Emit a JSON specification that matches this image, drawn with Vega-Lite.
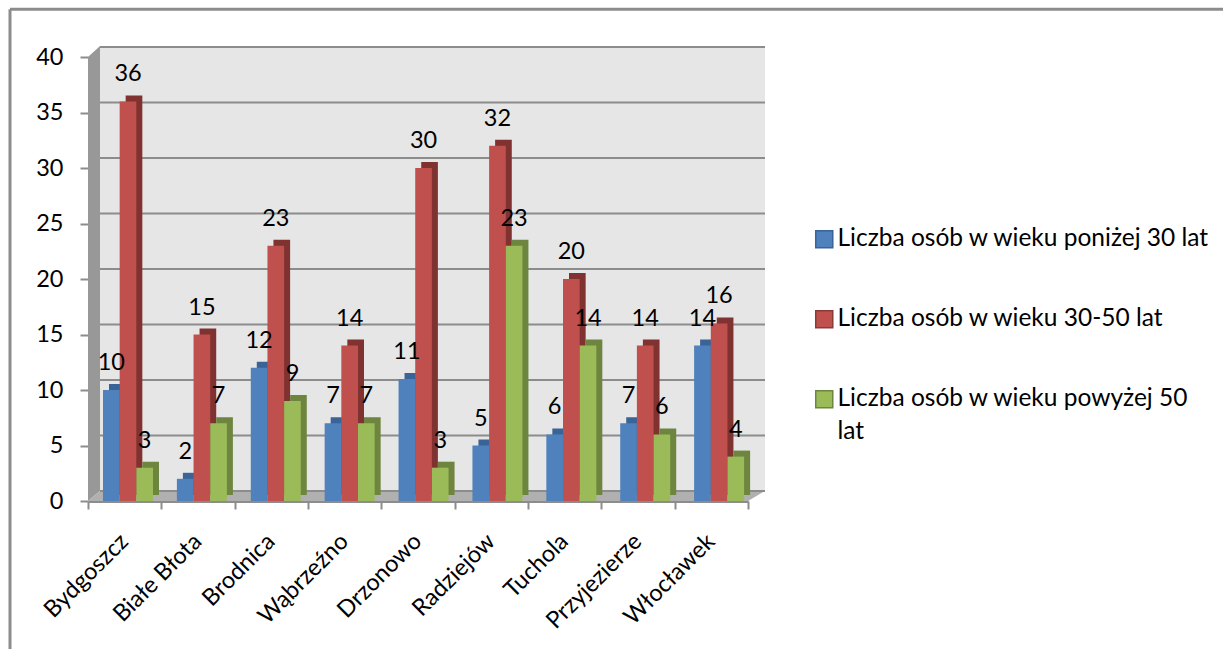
{
"$schema":"https://vega.github.io/schema/vega-lite/v6.json",
"width":660,"height":444,
"autosize":"none",
"padding":{"left":88,"top":57,"right":475,"bottom":148},
"background":"white",
"config":{"view":{"stroke":null},"font":"Lato"},
"datasets":{
 "chart":[
 {"miasto":"Bydgoszcz","seria":"Liczba osób w wieku poniżej 30 lat","liczba":10},
 {"miasto":"Bydgoszcz","seria":"Liczba osób w wieku 30-50 lat","liczba":36},
 {"miasto":"Bydgoszcz","seria":"Liczba osób w wieku powyżej 50 lat","liczba":3},
 {"miasto":"Białe Błota","seria":"Liczba osób w wieku poniżej 30 lat","liczba":2},
 {"miasto":"Białe Błota","seria":"Liczba osób w wieku 30-50 lat","liczba":15},
 {"miasto":"Białe Błota","seria":"Liczba osób w wieku powyżej 50 lat","liczba":7},
 {"miasto":"Brodnica","seria":"Liczba osób w wieku poniżej 30 lat","liczba":12},
 {"miasto":"Brodnica","seria":"Liczba osób w wieku 30-50 lat","liczba":23},
 {"miasto":"Brodnica","seria":"Liczba osób w wieku powyżej 50 lat","liczba":9},
 {"miasto":"Wąbrzeźno","seria":"Liczba osób w wieku poniżej 30 lat","liczba":7},
 {"miasto":"Wąbrzeźno","seria":"Liczba osób w wieku 30-50 lat","liczba":14},
 {"miasto":"Wąbrzeźno","seria":"Liczba osób w wieku powyżej 50 lat","liczba":7},
 {"miasto":"Drzonowo","seria":"Liczba osób w wieku poniżej 30 lat","liczba":11},
 {"miasto":"Drzonowo","seria":"Liczba osób w wieku 30-50 lat","liczba":30},
 {"miasto":"Drzonowo","seria":"Liczba osób w wieku powyżej 50 lat","liczba":3},
 {"miasto":"Radziejów","seria":"Liczba osób w wieku poniżej 30 lat","liczba":5},
 {"miasto":"Radziejów","seria":"Liczba osób w wieku 30-50 lat","liczba":32},
 {"miasto":"Radziejów","seria":"Liczba osób w wieku powyżej 50 lat","liczba":23},
 {"miasto":"Tuchola","seria":"Liczba osób w wieku poniżej 30 lat","liczba":6},
 {"miasto":"Tuchola","seria":"Liczba osób w wieku 30-50 lat","liczba":20},
 {"miasto":"Tuchola","seria":"Liczba osób w wieku powyżej 50 lat","liczba":14},
 {"miasto":"Przyjezierze","seria":"Liczba osób w wieku poniżej 30 lat","liczba":7},
 {"miasto":"Przyjezierze","seria":"Liczba osób w wieku 30-50 lat","liczba":14},
 {"miasto":"Przyjezierze","seria":"Liczba osób w wieku powyżej 50 lat","liczba":6},
 {"miasto":"Włocławek","seria":"Liczba osób w wieku poniżej 30 lat","liczba":14},
 {"miasto":"Włocławek","seria":"Liczba osób w wieku 30-50 lat","liczba":16},
 {"miasto":"Włocławek","seria":"Liczba osób w wieku powyżej 50 lat","liczba":4}
 ],
 "poziomy":[{"v":0},{"v":5},{"v":10},{"v":15},{"v":20},{"v":25},{"v":30},{"v":35},{"v":40}],
 "bokSciany":[{"g":0,"lo":0,"hi":40},{"g":12,"lo":0.9,"hi":41}],
 "podloga":[{"g":0,"lo":0,"hi":0},{"g":12,"lo":0,"hi":0.9},{"g":660,"lo":0,"hi":0.9},{"g":677,"lo":0.9,"hi":0.9}]
},
"resolve":{"scale":{"x":"independent"}},
"layer":[
 {"layer":[
  {"data":{"values":[{}]},"mark":{"type":"rect","fill":"#e6e6e6","stroke":null},
   "encoding":{"x":{"datum":12,"type":"quantitative","scale":{"domain":[0,660],"nice":false,"zero":false},"axis":null},"x2":{"datum":677},
    "y":{"datum":0.9,"type":"quantitative","scale":{"domain":[0,40],"nice":false},
     "axis":{"title":null,"values":[0,5,10,15,20,25,30,35,40],"grid":false,"domain":false,"labelFontSize":23.5,"labelColor":"#000000","labelPadding":17,"tickSize":8,"tickColor":"#8c8c8c","tickWidth":2}},"y2":{"datum":41}}},
  {"data":{"name":"bokSciany"},"mark":{"type":"area","fill":"#989898","stroke":null},
   "encoding":{"x":{"field":"g","type":"quantitative","axis":null},"y":{"field":"lo","type":"quantitative","axis":{"title":null}},"y2":{"field":"hi"}}},
  {"data":{"name":"podloga"},"mark":{"type":"area","fill":"#b0b0b0","stroke":null},
   "encoding":{"x":{"field":"g","type":"quantitative","axis":null},"y":{"field":"lo","type":"quantitative","axis":{"title":null}},"y2":{"field":"hi"}}},
  {"data":{"name":"poziomy"},"mark":{"type":"rule","stroke":"#8c8c8c","strokeWidth":2,"xOffset":12,"x2Offset":12,"yOffset":-10,"y2Offset":-10},
   "encoding":{"x":{"datum":0,"type":"quantitative","axis":null},"x2":{"datum":665},"y":{"field":"v","type":"quantitative","axis":{"title":null}}}},
  {"data":{"values":[{}]},"mark":{"type":"rule","stroke":"#8c8c8c","strokeWidth":3},
   "encoding":{"x":{"datum":-78,"type":"quantitative","axis":null},"x2":{"datum":1135},"y":{"datum":44.3,"type":"quantitative","axis":{"title":null}}}},
  {"data":{"values":[{}]},"mark":{"type":"rule","stroke":"#8c8c8c","strokeWidth":3},
   "encoding":{"x":{"datum":-78,"type":"quantitative","axis":null},"y":{"datum":44.3,"type":"quantitative","axis":{"title":null}},"y2":{"datum":-14}}}
 ]},
 {"data":{"name":"chart"},"mark":{"type":"bar","opacity":0},
   "encoding":{
    "x":{"field":"miasto","type":"nominal",
     "scale":{"domain":["Bydgoszcz","Białe Błota","Brodnica","Wąbrzeźno","Drzonowo","Radziejów","Tuchola","Przyjezierze","Włocławek"],"paddingInner":0,"paddingOuter":0},
     "axis":{"title":null,"labelAngle":-45,"labelFontSize":23.5,"labelColor":"#000000","labelPadding":20,"labelOffset":-9,"tickBand":"extent","tickSize":8,"tickColor":"#8c8c8c","tickWidth":2,"domainColor":"#8c8c8c","domainWidth":3,"labelOverlap":false}},
    "y":{"field":"liczba","type":"quantitative","axis":{"title":null}}}},
 {"data":{"name":"chart"},"mark":{"type":"bar","yOffset":-6,"y2Offset":-6},
   "encoding":{
    "x":{"field":"miasto","type":"nominal","axis":null,
     "scale":{"domain":["Bydgoszcz","Białe Błota","Brodnica","Wąbrzeźno","Drzonowo","Radziejów","Tuchola","Przyjezierze","Włocławek"],"paddingInner":0,"paddingOuter":0,"range":[6,671]}},
    "xOffset":{"field":"seria","type":"nominal","scale":{"domain":["Liczba osób w wieku poniżej 30 lat","Liczba osób w wieku 30-50 lat","Liczba osób w wieku powyżej 50 lat"],"range":[15,65]}},
    "y":{"field":"liczba","type":"quantitative","axis":{"title":null}},
    "fill":{"field":"seria","type":"nominal","legend":null,"scale":{"domain":["Liczba osób w wieku powyżej 50 lat","Liczba osób w wieku 30-50 lat","Liczba osób w wieku poniżej 30 lat"],"range":["#6e8540","#7f3230","#3a6397"]}}}},
 {"data":{"name":"chart"},
  "encoding":{
    "x":{"field":"miasto","type":"nominal","axis":null,
     "scale":{"domain":["Bydgoszcz","Białe Błota","Brodnica","Wąbrzeźno","Drzonowo","Radziejów","Tuchola","Przyjezierze","Włocławek"],"paddingInner":0,"paddingOuter":0,"range":[0,665]}},
    "xOffset":{"field":"seria","type":"nominal","scale":{"domain":["Liczba osób w wieku poniżej 30 lat","Liczba osób w wieku 30-50 lat","Liczba osób w wieku powyżej 50 lat"],"range":[15,65]}},
    "y":{"field":"liczba","type":"quantitative","axis":{"title":null}}
  },
  "layer":[
  {"mark":{"type":"bar"},
   "encoding":{
    "color":{"field":"seria","type":"nominal","title":null,
     "scale":{"domain":["Liczba osób w wieku poniżej 30 lat","Liczba osób w wieku 30-50 lat","Liczba osób w wieku powyżej 50 lat"],"range":["#4f81bd","#c0504d","#9bbb59"]},
     "legend":{"orient":"none","legendX":724,"legendY":170,"symbolType":"square","symbolSize":290,"symbolStrokeWidth":1.5,"symbolOpacity":1,"labelFontSize":24.5,"labelFont":"Lato","labelColor":"#000000","labelLimit":420,"rowPadding":55,"labelOffset":1,
      "encode":{"labels":{"update":{"lineHeight":{"value":33}}},"symbols":{"update":{"stroke":{"signal":"indexof(datum.value,'poniżej')>=0?'#3a6397':indexof(datum.value,'powyżej')>=0?'#6e8540':'#8c3a38'"}}}},
      "labelExpr":"datum.label == 'Liczba osób w wieku powyżej 50 lat' ? ['Liczba osób w wieku powyżej 50','lat'] : datum.label"}}}},
  {"mark":{"type":"text","dy":-27,"fontSize":23.5,"color":"#000000","baseline":"middle"},
   "encoding":{"text":{"field":"liczba","type":"quantitative"}}}
  ]}
]
}
